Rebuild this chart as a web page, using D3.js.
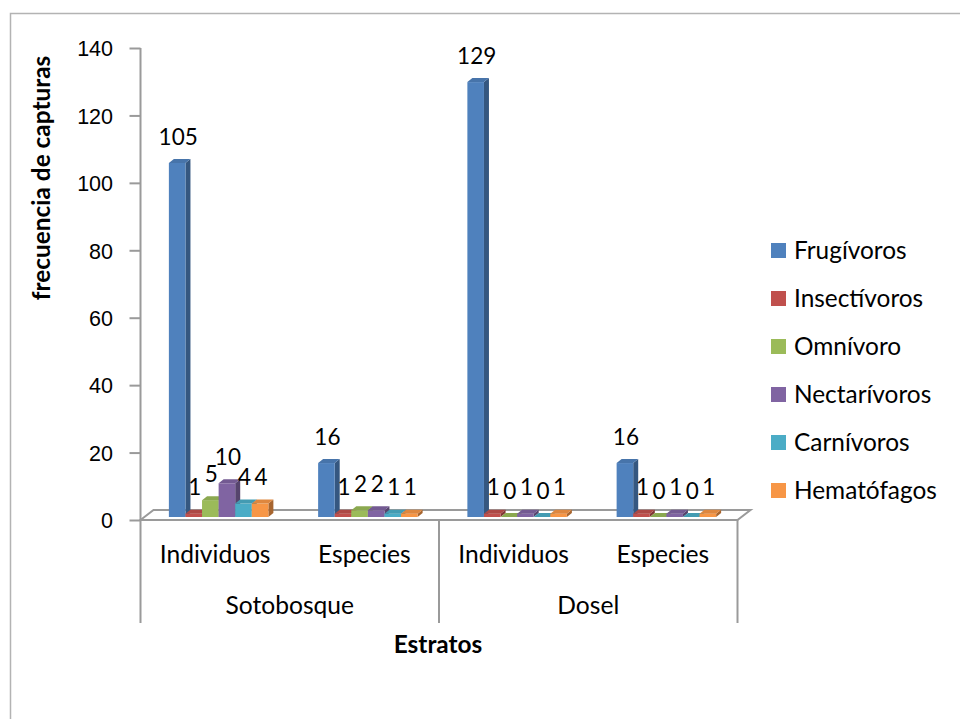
<!DOCTYPE html>
<html>
<head>
<meta charset="utf-8">
<script src="https://cdn.jsdelivr.net/npm/d3@7"></script>
<style>
  html, body { margin: 0; padding: 0; background: #fff; }
  svg { display: block; font-family: Lato, "Open Sans", sans-serif; }
</style>
</head>
<body>
<svg id="chart" width="960" height="719"></svg>
<script>
// Categories: inner level (tipo de conteo) and outer level (estrato)
const categories = ["Sotobosque|Individuos", "Sotobosque|Especies", "Dosel|Individuos", "Dosel|Especies"];
const innerLabels = ["Individuos", "Especies", "Individuos", "Especies"];
const outerGroups = ["Sotobosque", "Dosel"];

// Gremios tróficos (series)
const series = ["Frugívoros", "Insectívoros", "Omnívoro", "Nectarívoros", "Carnívoros", "Hematófagos"];
const seriesColors = ["#4F81BD", "#C0504D", "#9BBB59", "#8064A2", "#4BACC6", "#F79646"];

// Frecuencia de capturas por serie, en el orden de las categorías
const frugivoros   = [105, 16, 129, 16];
const insectivoros = [1, 1, 1, 1];
const omnivoro     = [5, 2, 0, 0];
const nectarivoros = [10, 2, 1, 1];
const carnivoros   = [4, 1, 0, 0];
const hematofagos  = [4, 1, 1, 1];

const yTicks = [0, 20, 40, 60, 80, 100, 120, 140];

const seriesValues = [frugivoros, insectivoros, omnivoro, nectarivoros, carnivoros, hematofagos];

const svg = d3.select("#chart");

// Plot frame
const left = 140.5, right = 737.5, zeroY = 520, topY = 48, labelBottom = 623;
const floorDx = 13, floorDy = -10;    // floor depth
const setDx = 3.5, setDy = -3;        // bars sit slightly back on the floor
const barDx = 5, barDy = -4;          // bar depth

const y = d3.scaleLinear().domain([0, 140]).range([zeroY, topY]);
const x0 = d3.scaleBand().domain(categories).range([left, right]).padding(0);
const x1 = d3.scaleBand().domain(series).range([0, x0.bandwidth()]).paddingInner(0).paddingOuter(1.5);

const gray = "#9a9a9a";

// Chart border
svg.append("rect")
  .attr("x", 10.5).attr("y", 13.5).attr("width", 980).attr("height", 740)
  .attr("fill", "none").attr("stroke", "#b3b3b3").attr("stroke-width", 1.5);

// Floor
svg.append("path")
  .attr("d", `M${left},${zeroY} L${left + floorDx},${zeroY + floorDy} L${right + floorDx},${zeroY + floorDy} L${right},${zeroY} Z`)
  .attr("fill", "#fff").attr("stroke", gray).attr("stroke-width", 2);

// Value axis
const yAxis = d3.axisLeft(y).tickValues(yTicks).tickSize(11).tickPadding(16.5).tickFormat(d3.format("d"));
const gy = svg.append("g").attr("transform", `translate(${left},0)`).call(yAxis);
gy.select(".domain").remove();
gy.selectAll(".tick line").attr("stroke", gray).attr("stroke-width", 2);
gy.selectAll(".tick text").attr("font-size", 21.5).attr("fill", "#000").attr("dy", "0.36em");

// Axis line running down through the category label area, plus group dividers
svg.append("line")
  .attr("x1", left).attr("x2", left).attr("y1", topY).attr("y2", labelBottom)
  .attr("stroke", gray).attr("stroke-width", 2);
[x0(categories[2]), right].forEach(xv => {
  svg.append("line")
    .attr("x1", xv).attr("x2", xv).attr("y1", zeroY).attr("y2", labelBottom)
    .attr("stroke", gray).attr("stroke-width", 2);
});

// Bars (drawn left to right so each bar hides the side of the one before)
const barsG = svg.append("g");
const w = x1.bandwidth();
categories.forEach((cat, ci) => {
  series.forEach((s, si) => {
    const v = seriesValues[si][ci];
    const c = d3.color(seriesColors[si]);
    const xl = x0(cat) + x1(s) + setDx;
    const xr = xl + w;
    const yb = zeroY + setDy;
    const yt = y(v) + setDy;
    const g = barsG.append("g");
    // right side face
    g.append("path")
      .attr("d", `M${xr},${yb} L${xr + barDx},${yb + barDy} L${xr + barDx},${yt + barDy} L${xr},${yt} Z`)
      .attr("fill", c.darker(1.1).formatHex());
    // front face
    if (v > 0) {
      g.append("rect")
        .attr("x", xl).attr("y", yt).attr("width", w).attr("height", yb - yt)
        .attr("fill", c.formatHex());
    }
    // top face
    g.append("path")
      .attr("d", `M${xl},${yt} L${xl + barDx},${yt + barDy} L${xr + barDx},${yt + barDy} L${xr},${yt} Z`)
      .attr("fill", c.darker(0.3).formatHex());
  });
});

// Value labels
const labelsG = svg.append("g").attr("font-size", 22.5).attr("text-anchor", "middle").attr("fill", "#000");
categories.forEach((cat, ci) => {
  series.forEach((s, si) => {
    const v = seriesValues[si][ci];
    labelsG.append("text")
      .attr("x", x0(cat) + x1(s) + setDx + w / 2 + 1)
      .attr("y", y(v) + setDy - 18.5)
      .text(v);
  });
});

// Category labels (inner and outer levels)
const catG = svg.append("g").attr("font-size", 24.6).attr("text-anchor", "middle").attr("fill", "#000");
categories.forEach((cat, ci) => {
  catG.append("text")
    .attr("x", x0(cat) + x0.bandwidth() / 2)
    .attr("y", 563)
    .text(innerLabels[ci]);
});
outerGroups.forEach((grp, gi) => {
  const a = x0(categories[gi * 2]);
  const b = x0(categories[gi * 2 + 1]) + x0.bandwidth();
  catG.append("text")
    .attr("x", (a + b) / 2)
    .attr("y", 614)
    .text(grp);
});

// Axis titles
svg.append("text")
  .attr("x", 438).attr("y", 653)
  .attr("text-anchor", "middle").attr("font-size", 24.4).attr("font-weight", "bold")
  .text("Estratos");

svg.append("text")
  .attr("transform", "translate(50,178) rotate(-90)")
  .attr("text-anchor", "middle").attr("font-size", 24.4).attr("font-weight", "bold")
  .text("frecuencia de capturas");

// Legend
const legend = svg.append("g").attr("transform", "translate(771,243)");
series.forEach((s, i) => {
  const row = legend.append("g").attr("transform", `translate(0,${i * 48})`);
  row.append("rect").attr("width", 15).attr("height", 15).attr("fill", seriesColors[i]);
  row.append("text").attr("x", 23).attr("y", 15.5)
    .attr("font-size", 24.4).attr("fill", "#000").text(s);
});
</script>
</body>
</html>
